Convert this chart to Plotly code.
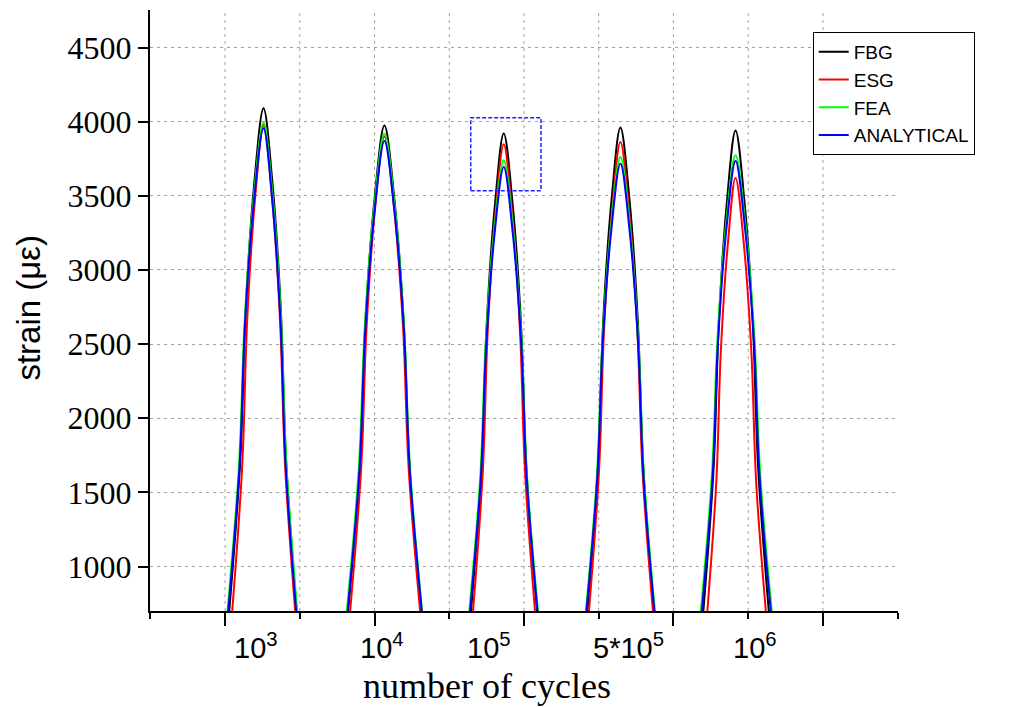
import plotly.graph_objects as go

# Horizontal positions along the cycle axis (axis runs 0..748, one grid step = 74.8)
# and strain values (micro-strain) for each measured / computed series.
# Each loading block is a separate hump; None separates the blocks.

fbg_x = [79, 90.0, 95.5, 104.0, 113.3, 122.3, 130.6, 135.9, 146.5, None,
         198, 209.6, 215.4, 224.5, 234.3, 244.2, 253.4, 259.3, 271, None,
         321, 331.5, 336.7, 344.9, 353.7, 362.7, 371.0, 376.3, 387, None,
         437.5, 448.1, 453.3, 461.6, 470.5, 479.6, 487.9, 493.3, 504, None,
         553.5, 563.8, 569.0, 577.0, 585.7, 594.7, 603.0, 608.3, 619]
fbg_y = [700, 1717, 2734, 3582, 4090, 3582, 2734, 1717, 700, None,
         700, 1682, 2664, 3483, 3974, 3483, 2664, 1682, 700, None,
         700, 1666, 2632, 3437, 3920, 3437, 2632, 1666, 700, None,
         700, 1678, 2656, 3471, 3960, 3471, 2656, 1678, 700, None,
         700, 1672, 2645, 3455, 3941, 3455, 2645, 1672, 700]

esg_x = [82, 92.0, 97.0, 104.9, 113.3, 121.9, 129.8, 134.9, 145, None,
         200, 211.0, 216.5, 225.0, 234.3, 243.9, 252.9, 258.6, 270, None,
         323, 332.8, 337.7, 345.4, 353.7, 362.2, 370.0, 375.0, 385, None,
         439, 449.1, 454.1, 462.0, 470.5, 479.3, 487.4, 492.6, 503, None,
         557.5, 566.5, 571.0, 578.1, 585.7, 593.9, 601.5, 606.3, 616]
esg_y = [700, 1683, 2666, 3485, 3976, 3485, 2666, 1683, 700, None,
         700, 1660, 2620, 3420, 3900, 3420, 2620, 1660, 700, None,
         700, 1644, 2589, 3376, 3848, 3376, 2589, 1644, 700, None,
         700, 1649, 2597, 3388, 3862, 3388, 2597, 1649, 700, None,
         700, 1576, 2452, 3182, 3620, 3182, 2452, 1576, 700]

fea_x = [77.3, 88.8, 94.6, 103.6, 113.3, 122.4, 130.8, 136.2, 147, None,
         196.7, 208.7, 214.8, 224.2, 234.3, 244.5, 253.9, 259.9, 272, None,
         319.3, 330.3, 335.8, 344.4, 353.7, 363.0, 371.5, 377.0, 388, None,
         436, 447.0, 452.6, 461.2, 470.5, 479.8, 488.4, 494.0, 505, None,
         551, 562.1, 567.7, 576.3, 585.7, 595.5, 604.6, 610.4, 622]
fea_y = [700, 1688, 2676, 3499, 3993, 3499, 2676, 1688, 700, None,
         700, 1665, 2631, 3435, 3918, 3435, 2631, 1665, 700, None,
         700, 1612, 2524, 3284, 3740, 3284, 2524, 1612, 700, None,
         700, 1618, 2537, 3302, 3761, 3302, 2537, 1618, 700, None,
         700, 1622, 2544, 3312, 3773, 3312, 2544, 1622, 700]

ana_x = [78, 89.3, 94.9, 103.8, 113.3, 122.1, 130.3, 135.5, 146, None,
         197.5, 209.3, 215.2, 224.4, 234.3, 244.4, 253.8, 259.7, 271.7, None,
         320, 330.8, 336.2, 344.6, 353.7, 362.8, 371.3, 376.7, 387.5, None,
         436.5, 447.4, 452.8, 461.3, 470.5, 479.7, 488.2, 493.6, 504.5, None,
         552, 562.8, 568.2, 576.6, 585.7, 595.2, 604.1, 609.7, 621]
ana_y = [700, 1677, 2654, 3468, 3956, 3468, 2654, 1677, 700, None,
         700, 1651, 2602, 3395, 3870, 3395, 2602, 1651, 700, None,
         700, 1599, 2497, 3246, 3695, 3246, 2497, 1599, 700, None,
         700, 1605, 2510, 3264, 3716, 3264, 2510, 1605, 700, None,
         700, 1611, 2521, 3280, 3735, 3280, 2521, 1611, 700]

series_names = ["FBG", "ESG", "FEA", "ANALYTICAL"]
series_colors = ["#000000", "#ff0000", "#00ff00", "#0000ff"]

# cycle-count labels and where they sit along the axis
cycle_labels = ["10<sup>3</sup>", "10<sup>4</sup>", "10<sup>5</sup>",
                "5*10<sup>5</sup>", "10<sup>6</sup>"]
cycle_label_pos = [106, 232, 339, 479, 605]

y_ticks = [1000, 1500, 2000, 2500, 3000, 3500, 4000, 4500]

GRID_STEP = 74.8
GRID = "#a0a0a0"
SERIF = "Liberation Serif, Times New Roman, serif"
SANS = "Liberation Sans, Arial, sans-serif"

fig = go.Figure()
for name, color, xs, ys in zip(series_names, series_colors,
                               [fbg_x, esg_x, fea_x, ana_x],
                               [fbg_y, esg_y, fea_y, ana_y]):
    fig.add_trace(go.Scatter(
        x=xs, y=ys, name=name, mode="lines",
        line=dict(color=color, width=2, shape="spline", smoothing=1.0),
        connectgaps=False,
    ))

# vertical dotted grid
shapes = []
for k in range(1, 10):
    shapes.append(dict(type="line", xref="x", yref="paper",
                       x0=k * GRID_STEP, x1=k * GRID_STEP, y0=0, y1=1,
                       line=dict(color=GRID, width=1, dash="3px,4px"),
                       layer="below"))
# highlighted region around the third block peaks
shapes.append(dict(type="rect", xref="x", yref="y",
                   x0=320.7, x1=391, y0=3534, y1=4026,
                   line=dict(color="#2020ff", width=1.5, dash="4px,2px"),
                   fillcolor="rgba(0,0,0,0)"))

annotations = []
for lab, pos in zip(cycle_labels, cycle_label_pos):
    annotations.append(dict(text=lab, x=pos, xref="x", y=-0.025, yref="paper",
                            xanchor="center", yanchor="top", showarrow=False,
                            font=dict(family=SANS, size=29, color="black")))
annotations.append(dict(text="number of cycles", x=0.4505, xref="paper",
                        y=-0.125, yref="paper", xanchor="center",
                        yanchor="middle", showarrow=False,
                        font=dict(family=SERIF, size=36, color="black")))
annotations.append(dict(text="strain (με)", x=-0.163, xref="paper",
                        y=0.505, yref="paper", xanchor="center",
                        yanchor="middle", textangle=-90, showarrow=False,
                        font=dict(family=SANS, size=33, color="black")))

fig.update_layout(
    width=1020, height=707,
    margin=dict(l=150, r=122, t=10, b=96),
    plot_bgcolor="white", paper_bgcolor="white",
    showlegend=True,
    legend=dict(x=0.886, y=0.9634, xanchor="left", yanchor="top",
                bgcolor="white", bordercolor="black", borderwidth=1,
                font=dict(family=SANS, size=19, color="black"),
                tracegroupgap=0),
    shapes=shapes,
    annotations=annotations,
)

fig.update_xaxes(
    range=[-0.3, 748.3], showgrid=False, zeroline=False,
    showline=True, linecolor="black", linewidth=2,
    tickmode="linear", tick0=GRID_STEP, dtick=2 * GRID_STEP,
    ticks="outside", ticklen=13, tickwidth=2, tickcolor="black",
    showticklabels=False,
    minor=dict(tickmode="linear", tick0=0, dtick=GRID_STEP,
               ticks="outside", ticklen=6, tickwidth=2, tickcolor="black",
               showgrid=False),
)
fig.update_yaxes(
    range=[700, 4753], zeroline=False,
    showline=True, linecolor="black", linewidth=2,
    tickmode="array", tickvals=y_ticks,
    ticks="outside", ticklen=10, tickwidth=2, tickcolor="black",
    tickfont=dict(family=SERIF, size=32, color="black"),
    showgrid=True, gridcolor=GRID, gridwidth=1, griddash="3px,4px",
)

fig.write_html("out.html")
